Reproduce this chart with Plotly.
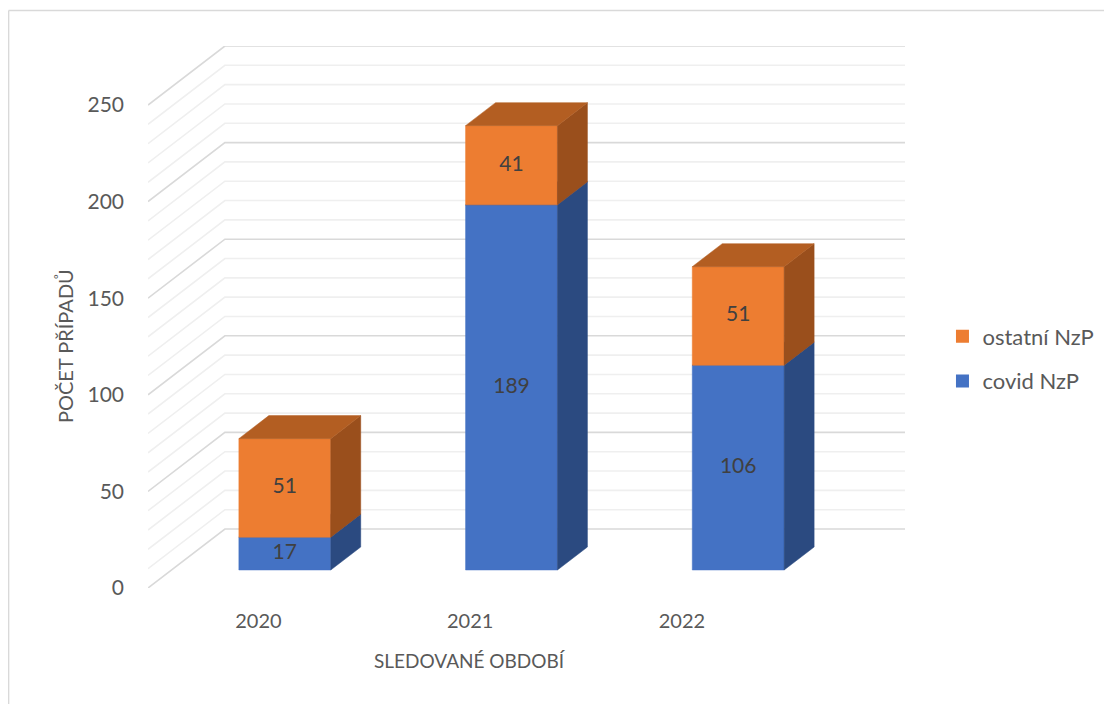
import plotly.graph_objects as go

# ---------------- data ----------------
years = ["2020", "2021", "2022"]
covid = [17, 189, 106]
ostatni = [51, 41, 51]
series_names = ["covid NzP", "ostatní NzP"]
y_ticks = [0, 50, 100, 150, 200, 250]

# ---------------- styling / geometry ----------------
W, H = 1112, 704
BODY = 8                                      # page body margin of the html page
PL, PR, PT, PB = 148, 905.5, 46, 588          # plot area in window pixels
PX_PER_CAT = 227.0
PX_PER_UNIT = 1.932
DX = 77.0 / PX_PER_CAT                        # depth shift in category units
DY = 59.0 / PX_PER_UNIT                       # depth shift in value units
F0, F1 = 0.305, 0.695                         # bar front/back depth fractions
BAR_W = 92.0 / PX_PER_CAT
GRID_STEP, GRID_MAX = 10, 250

FRONT = {"covid NzP": "#4472C4", "ostatní NzP": "#ED7D31"}
SIDE = {"covid NzP": "#2B4A80", "ostatní NzP": "#9A4F1C"}
TOP = {"covid NzP": "#34599C", "ostatní NzP": "#B35E22"}
TXT = "#595959"
FONT = "Lato"

x_min, x_max = -0.5, 2.5 + DX
y_min, y_max = 0, (PB - PT) / PX_PER_UNIT


def px2paper_x(px):
    return (px - PL) / (PR - PL)


def px2paper_y(py):
    return (PB - py) / (PB - PT)


def P(u, v, f):
    """oblique projection: category pos u, value v, depth fraction f"""
    return u + f * DX, v + f * DY


fig = go.Figure()

# ---------------- walls / gridlines ----------------
for major in (False, True):
    xs, ys = [], []
    for v in range(0, GRID_MAX + 1, GRID_STEP):
        if (v % 50 == 0) != major:
            continue
        a = P(-0.5, v, 0)
        b = P(-0.5, v, 1)
        c = P(2.5, v, 1)
        xs += [a[0], b[0], c[0], None]
        ys += [a[1], b[1], c[1], None]
    fig.add_trace(go.Scatter(
        x=xs, y=ys, mode="lines", hoverinfo="skip", showlegend=False,
        line=dict(color="#D9D9D9" if major else "#EFEFEF", width=1.6),
    ))

# ---------------- bars ----------------
for i, yr in enumerate(years):
    base = 0
    for name, vals in zip(series_names, [covid, ostatni]):
        val = vals[i]
        top = base + val
        xl = i - BAR_W / 2
        xr = i + BAR_W / 2
        faces = [
            ([P(xl, base, F0), P(xr, base, F0), P(xr, top, F0), P(xl, top, F0)], FRONT[name]),
            ([P(xr, base, F0), P(xr, base, F1), P(xr, top, F1), P(xr, top, F0)], SIDE[name]),
            ([P(xl, top, F0), P(xr, top, F0), P(xr, top, F1), P(xl, top, F1)], TOP[name]),
        ]
        for pts, col in faces:
            fig.add_trace(go.Scatter(
                x=[p[0] for p in pts] + [pts[0][0]],
                y=[p[1] for p in pts] + [pts[0][1]],
                mode="lines", fill="toself", fillcolor=col,
                line=dict(color=col, width=0.5),
                hoverinfo="skip", showlegend=False,
            ))
        cx, cy = P(i, (base + top) / 2, F0)
        fig.add_trace(go.Scatter(
            x=[cx], y=[cy], mode="text", text=[str(val)],
            textfont=dict(family=FONT, size=21, color="#404040"),
            hoverinfo="skip", showlegend=False,
        ))
        base = top

# ---------------- legend entries ----------------
for name in reversed(series_names):
    fig.add_trace(go.Scatter(
        x=[None], y=[None], mode="markers", name=name, legendgroup=name,
        marker=dict(symbol="square", size=13, color=FRONT[name]),
    ))

# x tick label positions (front edge, slightly compressed like the source)
label_pos = [0.921 + (i - 1) * 0.934 for i in range(len(years))]

fig.update_layout(
    width=W - BODY, height=H - BODY,
    margin=dict(l=PL - BODY, r=W - PR, t=PT - BODY, b=H - PB, pad=0,
                autoexpand=False),
    paper_bgcolor="white", plot_bgcolor="white",
    font=dict(family=FONT, size=20, color=TXT),
    xaxis=dict(range=[x_min, x_max], showgrid=False, zeroline=False,
               showline=False, tickmode="array", tickvals=label_pos,
               ticktext=years, ticks="", ticklabelstandoff=19,
               tickfont=dict(family=FONT, size=20, color=TXT), fixedrange=True),
    yaxis=dict(range=[y_min, y_max], showgrid=False, zeroline=False,
               showline=False, tickmode="array", tickvals=y_ticks,
               ticktext=[str(t) for t in y_ticks], ticks="",
               ticklabelstandoff=23,
               tickfont=dict(family=FONT, size=21, color=TXT), fixedrange=True),
    legend=dict(x=px2paper_x(943), y=px2paper_y(359), xanchor="left",
                yanchor="middle", font=dict(family=FONT, size=22, color=TXT),
                tracegroupgap=13, bgcolor="rgba(0,0,0,0)"),
    showlegend=True,
    annotations=[
        dict(text="SLEDOVANÉ OBDOBÍ", xref="paper", yref="paper",
             x=px2paper_x(470), y=px2paper_y(660), xanchor="center",
             yanchor="middle", showarrow=False,
             font=dict(family=FONT, size=19, color=TXT)),
        dict(text="POČET PŘÍPADŮ", xref="paper", yref="paper",
             x=px2paper_x(65), y=px2paper_y(346), xanchor="center",
             yanchor="middle", showarrow=False, textangle=-90,
             font=dict(family=FONT, size=20, color=TXT)),
    ],
    shapes=[
        dict(type="line", xref="paper", yref="paper",
             x0=px2paper_x(8.5), x1=px2paper_x(8.5),
             y0=px2paper_y(10.5), y1=px2paper_y(H + 5),
             line=dict(color="#D9D9D9", width=1.5)),
        dict(type="line", xref="paper", yref="paper",
             x0=px2paper_x(8.5), x1=px2paper_x(W + 5),
             y0=px2paper_y(10.5), y1=px2paper_y(10.5),
             line=dict(color="#D9D9D9", width=1.5)),
    ],
)

fig.write_html("out.html")
